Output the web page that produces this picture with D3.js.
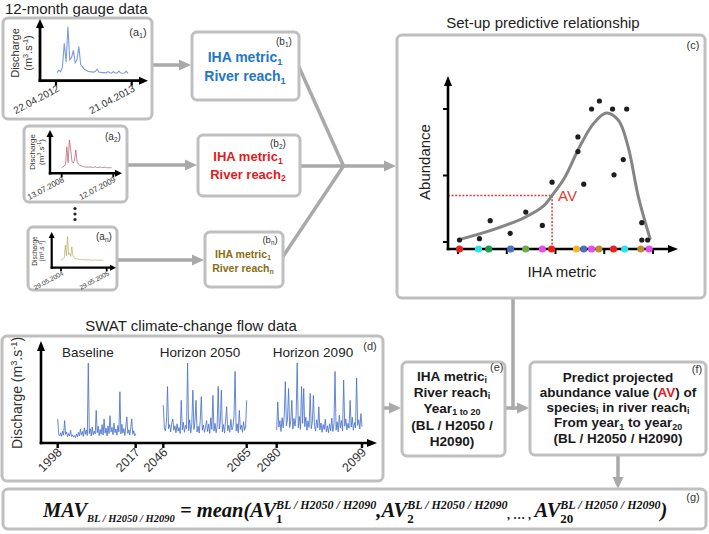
<!DOCTYPE html>
<html><head><meta charset="utf-8">
<script src="https://cdn.jsdelivr.net/npm/d3@7/dist/d3.min.js"></script>
<style>
html,body{margin:0;padding:0;background:#fff;}
svg{display:block;}
text{white-space:pre;}
</style></head><body>
<svg id="fig" width="709" height="534"></svg>
<script>
// ---------------- DATA ----------------
// (c) predictive relationship
const ihaMetric = [0.03,0.44,0.66,1.07,1.39,1.73,1.93,2.46,2.46,2.58,2.74,2.90,3.17,3.46,3.20,3.39,3.77,3.77,3.89];
const abundance = [0.03,0.05,0.32,0.13,0.45,0.25,0.90,1.58,1.36,0.87,2.00,2.12,2.00,2.00,1.01,1.24,0.29,0.03,0.03];
const fitX = [0.04,0.66,1.34,1.75,1.93,2.19,2.50,2.78,3.04,3.29,3.49,3.70,3.94];
const fitY = [0.04,0.17,0.36,0.54,0.70,0.97,1.44,1.78,1.94,1.83,1.43,0.68,0.05];
const reachDotX = [0.03,0.42,0.63,1.08,1.39,1.73,1.92,2.43,2.58,2.74,2.89,3.19,3.42,3.75,3.92];
const reachDotColor = ["#e8231f","#2fe3ee","#1a9c4c","#4a6fc4","#6aab4a","#e84ce8","#e8231f","#f0b429","#4a6fc4","#e84ce8","#b8912e","#e8231f","#2fe3ee","#b8912e","#e84ce8"];
const avPoint = [1.93, 0.70];
const abundanceTicks = [0,1,2];
const ihaTicks = [0,1,2,3,4];

// (a) 12-month gauge hydrographs
const gaugeA1 = [0.3,0.8,0.5,1.5,6.5,2.5,10,3.0,3.5,5.0,2.4,3.0,5.8,2.0,1.5,1.0,0.8,0.6,0.5,0.45,0.4,0.5,1.0,0.4,0.35,0.3,0.3,0.25,0.5,0.25,0.2,0.5,0.2,0.2,0.6,0.2,0.15,0.2,0.6,0.15];
const gaugeA2 = [0.3,0.5,0.8,1.5,7.6,2.0,10,6.5,2.5,1.8,3.0,6.5,2.2,1.5,1.1,0.9,0.7,0.6,0.5,0.45,0.4,0.4,0.5,0.35,0.35,0.3,0.6,0.3,0.3,0.3,0.5,0.25,0.25,0.25,0.45,0.2,0.2,0.2,0.2,0.2];
const gaugeAn = [0.3,0.5,0.8,1.2,6.5,2.0,10,2.5,3.2,1.8,5.8,2.0,1.4,1.0,0.8,0.7,0.6,0.5,0.45,0.4,0.4,0.4,0.5,0.35,0.3,0.3,0.45,0.3,0.3,0.25,0.25,0.4,0.25,0.2,0.2,0.35,0.2,0.2,0.2,0.2];
const datesA1 = ["22.04.2012","21.04.2013"];
const datesA2 = ["13.07.2008","12.07.2009"];
const datesAn = ["29.05.2004","29.05.2005"];

// (d) SWAT climate-change flows
const baselineFlow = [5.2,1.5,1.0,1.8,0.9,2.2,1.2,4.8,1.4,2.0,0.8,1.6,1.0,2.4,0.9,1.3,0.7,1.1,0.6,1.5,0.8,1.9,1.0,2.7,1.2,2.1,0.9,3.0,1.4,2.5,1.1,19.0,1.6,2.8,1.0,3.2,1.3,2.2,1.5,7.3,1.8,3.4,1.1,2.6,1.4,3.8,1.2,5.2,1.7,2.9,1.0,3.5,1.6,6.0,2.0,3.1,1.3,4.2,1.8,2.7,1.2,3.6,2.0,11.9,1.5,3.9,1.7,2.8,1.1,3.3,5.7,1.6,2.5,1.2,3.0,5.2,1.4,2.3,1.0,1.6];
const h2050Flow = [8.6,3.0,2.2,4.5,13.2,2.8,3.8,2.0,4.2,5.2,2.4,3.5,1.8,4.0,2.2,3.1,1.6,9.8,2.5,4.4,1.9,3.6,2.8,19.0,2.3,5.0,1.8,3.9,12.3,2.6,4.6,9.8,2.0,3.4,1.7,4.8,10.7,2.4,3.7,1.9,3.2,4.8,2.1,3.9,1.6,5.5,2.6,11.0,2.2,4.1,1.8,3.5,13.2,2.7,4.3,12.3,2.0,3.8,1.7,4.6,8.2,2.3,3.6,1.9,5.1,2.5,3.3,6.0,16.9,2.2,4.0,1.8,7.3,2.6,3.7,1.9,4.5,2.4,3.2,9.8];
const h2090Flow = [2.5,9.4,3.2,4.8,2.1,5.5,3.0,6.2,14.4,3.5,5.0,12.7,3.1,4.6,9.8,2.7,5.3,3.4,6.0,19.0,3.0,5.8,2.6,13.2,4.1,12.7,3.3,5.6,2.4,4.7,3.1,11.5,2.8,4.4,11.0,3.6,2.2,5.0,3.0,8.2,2.5,4.2,1.9,3.8,2.6,5.1,2.0,3.5,1.8,4.0,2.3,5.4,2.1,3.7,16.9,2.4,4.5,2.0,6.1,3.0,4.8,2.2,14.8,3.4,5.2,2.5,4.1,2.9,9.8,3.2,5.6,2.4,4.3,3.0,15.3,3.6,5.0,2.7,6.5,3.3];
const periodNames = ["Baseline","Horizon 2050","Horizon 2090"];
const periodStart = [1998,2046,2080];
const periodEnd = [2017,2065,2099];

// ---------------- DRAWING ----------------
const svg = d3.select("#fig");
const SANS = "'Liberation Sans',Arial,Helvetica,sans-serif";
const BOX = "#bfbfbf", ARW = "#a9a9a9";

function box(x,y,w,h){
  svg.append("rect").attr("x",x).attr("y",y).attr("width",w).attr("height",h)
    .attr("rx",5).attr("fill","#fff").attr("stroke",BOX).attr("stroke-width",3);
}
function seg(x1,y1,x2,y2,color,w){
  svg.append("line").attr("x1",x1).attr("y1",y1).attr("x2",x2).attr("y2",y2)
    .attr("stroke",color).attr("stroke-width",w);
}
function head(x1,y1,x2,y2,len,wid,color){
  const a=Math.atan2(y2-y1,x2-x1), c=Math.cos(a), s=Math.sin(a);
  const bx=x2-c*len, by=y2-s*len;
  const p=[[x2,y2],[bx-s*wid/2,by+c*wid/2],[bx+s*wid/2,by-c*wid/2]];
  svg.append("path").attr("d","M"+p.map(q=>q.join(",")).join("L")+"Z").attr("fill",color);
}
function arrow(x1,y1,x2,y2,color,w,len,wid){
  const a=Math.atan2(y2-y1,x2-x1);
  seg(x1,y1,x2-Math.cos(a)*len*0.6,y2-Math.sin(a)*len*0.6,color,w);
  head(x1,y1,x2,y2,len,wid,color);
}
function rich(x,y,parts,size,o={}){
  const t=svg.append("text").attr("x",x).attr("y",y)
    .attr("font-family",o.family||SANS).attr("font-size",size)
    .attr("font-weight",o.weight||"normal").attr("font-style",o.style||"normal")
    .attr("fill",o.fill||"#222").attr("text-anchor",o.anchor||"start");
  if(o.transform) t.attr("transform",o.transform);
  if(o.dy) t.attr("dy",o.dy);
  let shift=0;
  const subK = o.subK!==undefined ? o.subK : 0.22;
  parts.forEach(p=>{
    const arr = typeof p==="string" ? [p,"n"] : p;
    const s=arr[0], type=arr[1], col=arr[2];
    const target = type==="sub" ? size*subK : type==="sup" ? -size*0.38 : 0;
    const ts=t.append("tspan").attr("dy",target-shift)
      .attr("font-size",type==="n"?size:size*0.66).text(s);
    if(col) ts.attr("fill",col);
    shift=target;
  });
  return t;
}

// ---- titles
rich(5,13.5,["12-month gauge data"],15);
rich(543,28,["Set-up predictive relationship"],15,{anchor:"middle"});
rich(191,331,["SWAT climate-change flow data"],15,{anchor:"middle"});

// ---- arrows (drawn first, under boxes)
arrow(152,65,191,65,ARW,3.5,12,11);
arrow(127,165,197,165,ARW,3.5,12,11);
arrow(117,260,204,260,ARW,3.5,12,11);
seg(299,67,343.5,166,ARW,3.5);
seg(299,166,343.5,166,ARW,3.5);
seg(282,258,343.5,166,ARW,3.5);
arrow(342,166,396,166,ARW,3.5,12,11);
seg(513,296,513,409.7,ARW,3.5);
arrow(383,408,401,408,ARW,3.5,12,11);
arrow(504,408,529,408,ARW,3.5,12,11);
arrow(618,455,618,489,ARW,3.5,12,11);

// ---- boxes
box(3,18,149,101);
box(24,126,103,76);
box(28,227,89,63);
box(192,32,107,68);
box(198,135,102,61);
box(205,232,78,55);
box(397,35,308,263);
box(2,336,381,145);
box(402,362,103,94);
box(530,362,176,93);
box(3,489,703,40);

// ---- (a) mini hydrographs
function mini(c,data,dates,lab){
  const x=d3.scaleLinear().domain([0,data.length-1]).range([c.d0,c.d1]);
  const y=d3.scaleLinear().domain([0,10]).range([c.base,c.top]);
  svg.append("path").datum(data)
    .attr("d",d3.line().x((d,i)=>x(i)).y(d=>y(d)))
    .attr("fill","none").attr("stroke",c.color).attr("stroke-width",c.lw).attr("opacity",0.8);
  seg(c.ox,c.oy+c.aw/2,c.ox,c.yTop+c.hl*0.6,"#000",c.aw);
  head(c.ox,c.oy,c.ox,c.yTop,c.hl,c.hw,"#000");
  seg(c.ox-c.aw/2,c.oy,c.xEnd-c.hl*0.6,c.oy,"#000",c.aw);
  head(c.ox,c.oy,c.xEnd,c.oy,c.hl,c.hw,"#000");
  const tx=d3.scaleLinear().domain([0,1]).range([c.t1,c.t2]);
  [0,1].forEach(k=>{
    seg(tx(k),c.oy,tx(k),c.oy+c.tl,"#000",c.aw*0.8);
    rich(tx(k)+c.lx,c.oy+c.ly,[dates[k]],c.tf,{anchor:"end",fill:"#333",
      transform:`rotate(-28,${tx(k)+c.lx},${c.oy+c.ly})`});
  });
  rich(c.yl1,c.ylc,["Discharge"],c.yf,{anchor:"middle",fill:"#333",transform:`rotate(-90,${c.yl1},${c.ylc})`});
  rich(c.yl2,c.ylc,["(m",["3","sup"],".s",["-1","sup"],")"],c.yf,{anchor:"middle",fill:"#333",transform:`rotate(-90,${c.yl2},${c.ylc})`});
  rich(c.lbx,c.lby,["(a",[lab,"sub"],")"],c.lbf,{anchor:"middle",fill:"#333"});
}
mini({ox:40,oy:80.7,yTop:19,xEnd:148,t1:56,t2:131.7,d0:57,d1:128,base:74,top:26.7,color:"#5b82d6",lw:1.1,
      aw:2.8,hl:9,hw:8,tl:5,tf:10,lx:4,ly:10,yl1:19,yl2:32,ylc:53,yf:11,lbx:138,lby:36,lbf:11},gaugeA1,datesA1,"1");
mini({ox:50,oy:173.3,yTop:130,xEnd:122,t1:61.7,t2:113.3,d0:61.7,d1:111.7,base:168.3,top:140,color:"#b0586a",lw:0.9,
      aw:2.4,hl:7,hw:7,tl:4,tf:8,lx:3,ly:8,yl1:35,yl2:44,ylc:152,yf:8,lbx:113,lby:140,lbf:10},gaugeA2,datesA2,"2");
mini({ox:51.7,oy:267.7,yTop:232,xEnd:116,t1:61,t2:106.7,d0:61,d1:103.3,base:260.7,top:236.7,color:"#aea35a",lw:0.8,
      aw:2.2,hl:6,hw:6,tl:3.5,tf:6.5,lx:3,ly:7,yl1:37,yl2:44,ylc:251,yf:6.5,lbx:104,lby:240,lbf:10},gaugeAn,datesAn,"n");
[208.5,214,219.5].forEach(v=>svg.append("circle").attr("cx",75).attr("cy",v).attr("r",1.6).attr("fill","#222"));

// ---- (b) boxes
rich(245,62.3,["IHA metric",["1","sub"]],14,{anchor:"middle",weight:"bold",fill:"#1f78c4"});
rich(245,80.5,["River reach",["1","sub"]],14,{anchor:"middle",weight:"bold",fill:"#1f78c4"});
rich(284,45,["(b",["1","sub"],")"],10,{anchor:"middle",fill:"#333"});
rich(248,161,["IHA metric",["1","sub"]],13,{anchor:"middle",weight:"bold",fill:"#e31a1c"});
rich(248,178.5,["River reach",["2","sub"]],13,{anchor:"middle",weight:"bold",fill:"#e31a1c"});
rich(278,147,["(b",["2","sub"],")"],10,{anchor:"middle",fill:"#333"});
rich(243,257.5,["IHA metric",["1","sub"]],10.5,{anchor:"middle",weight:"bold",fill:"#8c6b14"});
rich(243,272,["River reach",["n","sub"]],10.5,{anchor:"middle",weight:"bold",fill:"#8c6b14"});
rich(270,243,["(b",["n","sub"],")"],9.5,{anchor:"middle",fill:"#333"});

// ---- (c) relationship plot
const cx=d3.scaleLinear().domain([0,4]).range([458,653]);
const cy=d3.scaleLinear().domain([0,2]).range([242,109]);
const cAxisY=249, cAxisX=448;
rich(693,49,["(c)"],11,{anchor:"middle",fill:"#333"});
svg.append("path").attr("d",`M${cAxisX},${cy(avPoint[1])}H${cx(avPoint[0])}V${cAxisY}`)
  .attr("fill","none").attr("stroke","#e03a33").attr("stroke-width",1.5).attr("stroke-dasharray","2,1.6");
svg.append("path").datum(fitX.map((v,i)=>[v,fitY[i]]))
  .attr("d",d3.line().x(d=>cx(d[0])).y(d=>cy(d[1])).curve(d3.curveCatmullRom.alpha(0.5)))
  .attr("fill","none").attr("stroke","#858585").attr("stroke-width",3).attr("stroke-linecap","round");
svg.append("g").selectAll("circle").data(ihaMetric).join("circle")
  .attr("cx",d=>cx(d)).attr("cy",(d,i)=>cy(abundance[i])).attr("r",2.6).attr("fill","#1e1e1e");
seg(cAxisX,cAxisY+1.3,cAxisX,85,"#000",2.6);
head(cAxisX,cAxisY,cAxisX,76,10,8,"#000");
seg(cAxisX-1.3,cAxisY,670,cAxisY,"#000",2.6);
head(cAxisX,cAxisY,678,cAxisY,10,8,"#000");
abundanceTicks.forEach(t=>seg(cAxisX-5,cy(t),cAxisX,cy(t),"#000",2));
ihaTicks.forEach(t=>seg(cx(t),cAxisY,cx(t),cAxisY+5,"#000",2));
svg.append("g").selectAll("circle").data(reachDotX).join("circle")
  .attr("cx",d=>cx(d)).attr("cy",cAxisY).attr("r",3.6).attr("fill",(d,i)=>reachDotColor[i]);
rich(558,200.7,["AV"],15,{fill:"#e03a33"});
rich(430,162,["Abundance"],15,{anchor:"middle",transform:"rotate(-90,430,162)",fill:"#222"});
rich(562,277,["IHA metric"],15,{anchor:"middle",fill:"#222"});

// ---- (d) SWAT flows
const dRanges=[[57.7,135.7],[163.3,246.7],[276.7,362]];
const periodLabelX=[88,200,313];
const dAxisY=443, dAxisX=41;
const dScale=periodStart.map((s,k)=>d3.scaleLinear().domain([s,periodEnd[k]]).range(dRanges[k]));
const qy=d3.scaleLinear().domain([0,19]).range([440,363]);
[baselineFlow,h2050Flow,h2090Flow].forEach((series,k)=>{
  const step=(periodEnd[k]-periodStart[k])/(series.length-1);
  svg.append("path").datum(series)
    .attr("d",d3.line().x((d,i)=>dScale[k](periodStart[k]+i*step)).y(d=>qy(d)))
    .attr("fill","none").attr("stroke","#4a73cc").attr("stroke-width",1).attr("opacity",0.85);
});
seg(dAxisX,dAxisY+1.3,dAxisX,350,"#000",2.6);
head(dAxisX,dAxisY,dAxisX,341,10,8,"#000");
seg(dAxisX-1.3,dAxisY,368,dAxisY,"#000",2.6);
head(dAxisX,dAxisY,377,dAxisY,10,8,"#000");
periodStart.forEach((s,k)=>{
  [s,periodEnd[k]].forEach(yr=>{
    const xx=dScale[k](yr);
    seg(xx,dAxisY,xx,dAxisY+5,"#000",2.4);
    rich(xx+5,dAxisY+10,[String(yr)],12.5,{anchor:"end",fill:"#333",transform:`rotate(-45,${xx+5},${dAxisY+10})`});
  });
  rich(periodLabelX[k],357,[periodNames[k]],13.5,{anchor:"middle",fill:"#222"});
});
rich(22,393,["Discharge (m",["3","sup"],".s",["-1","sup"],")"],14,{anchor:"middle",fill:"#333",transform:"rotate(-90,22,393)",dy:"0.35em"});
rich(370,350,["(d)"],11,{anchor:"middle",fill:"#333"});

// ---- (e)
const eLines=[[["IHA metric",["i","sub"]],380.5],[["River reach",["i","sub"]],396.5],[["Year",["1 to 20","sub"]],412.5],[["(BL / H2050 /"],429.5],[["H2090)"],445.5]];
eLines.forEach(l=>rich(452,l[1],l[0],13.6,{anchor:"middle",weight:"bold",fill:"#1a1a1a",subK:0.16}));
rich(490,371,["(e)"],11,{fill:"#333"});

// ---- (f)
const fLines=[[["Predict projected"],381.5],[["abundance value (",["AV","n","#e31a1c"],") of"],396.5],
  [["species",["i","sub"]," in river reach",["i","sub"]],411.5],[["From year",["1","sub"]," to year",["20","sub"]],427],[["(BL / H2050 / H2090)"],443]];
fLines.forEach(l=>rich(618,l[1],l[0],13.5,{anchor:"middle",weight:"bold",fill:"#1a1a1a"}));
rich(697,373,["(f)"],11,{anchor:"middle",fill:"#333"});

// ---- (g) formula
(function(){
  const SERIF="'Liberation Serif','Times New Roman',serif";
  const g=svg.append("g").attr("font-family",SERIF).attr("font-weight","bold").attr("font-style","italic").attr("fill","#111");
  const base=517; let px=43;
  function put(s,size,off,style){
    const t=g.append("text").attr("x",px).attr("y",base+off).attr("font-size",size).text(s);
    if(style) t.attr("font-style",style);
    return t.node().getComputedTextLength();
  }
  const M=20.5, SB=10.5, SP=12, sup="BL / H2050 / H2090";
  px+=put("MAV",M,0);
  px+=put(sup,SB,5);
  px+=put(" = mean(",M,0);
  const idx=["1","2","20"];
  idx.forEach((k,j)=>{
    if(j===1) px+=put(",",M,0);
    if(j===2) px+=put(", \u2026 , ",SP,2);
    px+=put("AV",M,0);
    const w1=put(sup,SP,-8);
    const w2=put(k,SP+1,6,"normal");
    px+=Math.max(w1,w2);
  });
  px+=put(")",M,0);
})();
rich(693,501,["(g)"],11,{anchor:"middle",fill:"#333"});
</script>
</body></html>
